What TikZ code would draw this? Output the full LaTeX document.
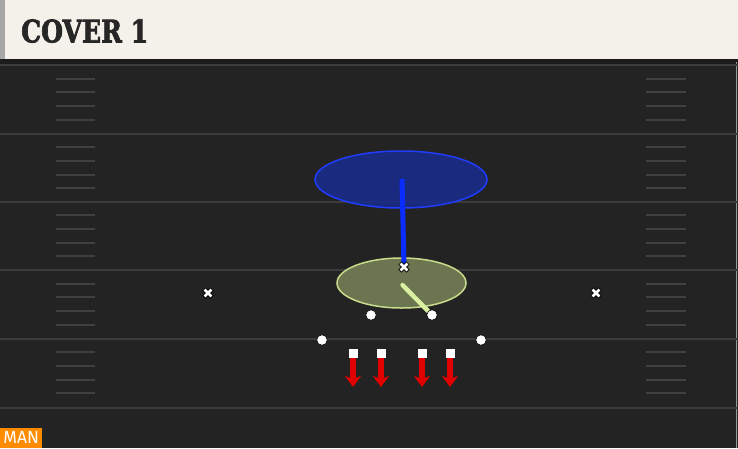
\documentclass[tikz,border=0pt]{standalone}
\usepackage{fontspec}
\newfontfamily\titlefont{DejaVu Serif}[BoldFont={DejaVu Serif Bold}, BoldFeatures={FakeBold=2.5}]
\newfontfamily\labelfont{Fira Sans}
\usetikzlibrary{arrows.meta,shapes.geometric}
\definecolor{cream}{HTML}{F4F1EA}
\definecolor{field}{HTML}{232323}
\definecolor{fieldtop}{HTML}{1C1C1C}
\definecolor{yardline}{HTML}{3C3C3C}
\definecolor{hashc}{HTML}{404040}
\definecolor{zoneblue}{HTML}{1A2C8A}
\definecolor{edgeblue}{HTML}{1F3CFF}
\definecolor{runblue}{HTML}{0A2CFF}
\definecolor{zonegreen}{HTML}{6B7550}
\definecolor{edgegreen}{HTML}{C8DC8C}
\definecolor{rungreen}{HTML}{D8F0A0}
\definecolor{rushred}{HTML}{E00000}
\definecolor{manorange}{HTML}{FF8C00}
\tikzset{
  yard/.style={draw=yardline, line width=2pt},
  hashmark/.style={draw=hashc, line width=2pt},
  player/.style={circle, fill=white, draw=black, line width=0.6pt, minimum size=10.5pt, inner sep=0pt},
  rusher/.style={rectangle, fill=white, minimum size=9pt, inner sep=0pt},
  rush/.style={draw=rushred, line width=5.5pt, -{Stealth[length=11pt,width=16pt,inset=3pt]}},
}
\newcommand{\xmark}[2]{%
  \draw[black, line width=4.5pt] (#1-4,#2-4) -- (#1+4,#2+4) (#1-4,#2+4) -- (#1+4,#2-4);
  \draw[white, line width=2.8pt] (#1-3.4,#2-3.4) -- (#1+3.4,#2+3.4) (#1-3.4,#2+3.4) -- (#1+3.4,#2-3.4);}
\begin{document}
\begin{tikzpicture}[x=1pt,y=-1pt]
\useasboundingbox (0,0) rectangle (738,448);
% background
\fill[field] (0,59) rectangle (738,448);
\fill[fieldtop] (0,59) rectangle (738,65);
\fill[cream] (0,0) rectangle (738,59);
\fill[black!35] (0,0) rectangle (5,59);
\draw[black!40, line width=1pt] (736,62) -- (736,448);
% yard lines
\foreach \y in {65,133.5,201.5,270,338.5,407.5} {\draw[yard] (0,\y) -- (738,\y);}
% hash marks
\foreach \y in {65,133.5,201.5,270,338.5} {
  \foreach \k in {1,2,3,4} {
    \draw[hashmark] (56,\y+13.7*\k) -- (95,\y+13.7*\k);
    \draw[hashmark] (646,\y+13.7*\k) -- (686,\y+13.7*\k);
  }
}
% title
\node[anchor=south west, inner sep=0pt, text=black!85] (title) at (21,43) {\resizebox{127pt}{23pt}{\titlefont\bfseries\fontsize{30}{30}\selectfont COVER 1}};
% zones
\node[ellipse, draw=edgeblue, line width=1.5pt, fill=zoneblue, fill opacity=0.9, minimum width=172pt, minimum height=57pt, inner sep=0pt] (deep) at (401,179.5) {};
\node[ellipse, draw=edgegreen, line width=1.5pt, fill=zonegreen, minimum width=129pt, minimum height=50pt, inner sep=0pt] (under) at (401.5,283) {};
% safety route
\coordinate (safetyend) at (402,179);
\coordinate (safety) at (404,267);
\draw[runblue, line width=5pt] (safety) -- (safetyend);
\xmark{404}{267}
% robber route
\coordinate (robstart) at (402.5,285);
\node[player] (cb2) at (432,315) {};
\draw[rungreen, line width=4.5pt, line cap=round] (robstart) -- (cb2);
\node[player] (cb2b) at (432,315) {};
\node[player] (cb1) at (371,315) {};
\node[player] (lb1) at (322,340) {};
\node[player] (lb2) at (481,340) {};
% outside x marks
\xmark{208}{293}
\xmark{596}{293}
% rushers
\foreach \x/\n in {353/r1,381/r2,422/r3,450/r4} {
  \node[rusher] (\n) at (\x,353) {};
  \coordinate (\n end) at (\x,387);
  \draw[rush] (\n.south) -- (\n end);
  \node[rusher] at (\x,353) {};
}
% MAN tag
\node[fill=manorange, anchor=south west, minimum width=42pt, minimum height=20pt, inner sep=0pt] (man) at (0,448) {};
\node[text=white, inner sep=0pt, font=\labelfont\fontsize{17.5}{17.5}\selectfont] (mantext) at (man.center) {MAN};
\end{tikzpicture}
\end{document}
